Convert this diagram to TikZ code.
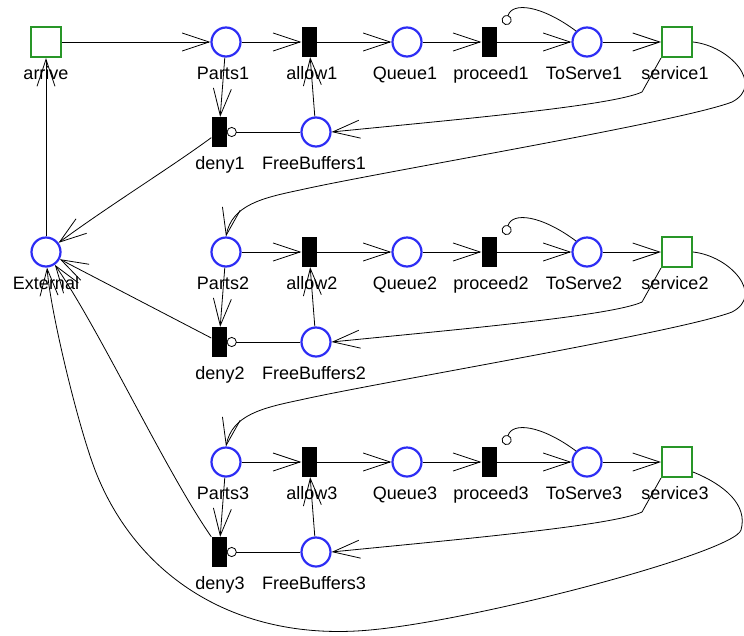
\documentclass[tikz,border=0pt]{standalone}
\usepackage{fontspec}
\setmainfont{Liberation Sans}
\usetikzlibrary{arrows.meta,calc}
\definecolor{pblue}{RGB}{45,45,245}
\definecolor{tgreen}{RGB}{40,150,40}
\tikzset{
  place/.style={circle,draw=pblue,line width=2.2pt,minimum size=29pt,inner sep=0pt,fill=white},
  trans/.style={rectangle,fill=black,minimum width=15pt,minimum height=30pt,inner sep=0pt},
  sub/.style={rectangle,draw=tgreen,line width=2pt,minimum size=30pt,inner sep=0pt,fill=white},
  lbl/.style={font=\fontsize{18}{20}\selectfont,anchor=base,inner sep=0pt},
  arc/.style={line width=0.8pt,-{Straight Barb[length=27pt,width=18pt,line width=0.8pt]}},
  inh/.style={line width=0.8pt,-{Circle[open,length=10pt,width=10pt,line width=0.8pt]}},
}
\begin{document}
\begin{tikzpicture}[x=1pt,y=-1pt]
\useasboundingbox (0,0) rectangle (744,635);
\node[sub] (arrive) at (46,42) {};
\node[place] (External) at (46,252) {};
\node[lbl] (arrive-l) at (46,79.5) {arrive};
\node[lbl] (External-l) at (46,289.5) {External};
\foreach \i/\y in {1/0,2/210,3/420}{
  \node[place] (Parts\i) at (226,42+\y) {};
  \node[trans] (allow\i) at (309,42+\y) {};
  \node[place] (Queue\i) at (407,42+\y) {};
  \node[trans] (proceed\i) at (489,42+\y) {};
  \node[place] (ToServe\i) at (587,42+\y) {};
  \node[sub] (service\i) at (677,42+\y) {};
  \node[trans] (deny\i) at (219,132+\y) {};
  \node[place] (FreeBuffers\i) at (316,132+\y) {};
  \node[lbl] (Parts\i-l) at (223,79.5+\y) {Parts\i};
  \node[lbl] (allow\i-l) at (312,79.5+\y) {allow\i};
  \node[lbl] (Queue\i-l) at (405,79.5+\y) {Queue\i};
  \node[lbl] (proceed\i-l) at (491,79.5+\y) {proceed\i};
  \node[lbl] (ToServe\i-l) at (584,79.5+\y) {ToServe\i};
  \node[lbl] (service\i-l) at (675,79.5+\y) {service\i};
  \node[lbl] (deny\i-l) at (220,169.5+\y) {deny\i};
  \node[lbl] (FreeBuffers\i-l) at (314,169.5+\y) {FreeBuffers\i};
  \draw[arc] (Parts\i) -- (allow\i);
  \draw[arc] (allow\i) -- (Queue\i);
  \draw[arc] (Queue\i) -- (proceed\i);
  \draw[arc] (proceed\i) -- (ToServe\i);
  \draw[arc] (ToServe\i) -- (service\i);
  \draw[arc] (Parts\i) -- (deny\i);
  \draw[arc] (FreeBuffers\i) -- (allow\i);
  \draw[inh] (FreeBuffers\i) -- (deny\i);
  \draw[inh] (ToServe\i.north west) .. controls +(-35,-26) and +(7,-23) .. ($(proceed\i.north east)+(8.5,-2)$);
  \draw[arc] (service\i.south west) -- ++(-19,34) .. controls +(-30,14) and +(120,-12) .. (FreeBuffers\i.east);
}
\foreach \i/\j/\y in {1/2/0,2/3/210}{
  \draw[arc] (service\i.east) .. controls (730,46+\y) and (765,85+\y) .. (732,102+\y)
     .. controls (680,122+\y) and (380,172+\y) .. (300,190+\y)
     .. controls (262,198+\y) and (232,205+\y) .. (Parts\j.north);
}
\draw[arc] (arrive) -- (Parts1);
\draw[arc] (External) -- (arrive);
\draw[arc] (deny1) .. controls (170,168) and (110,205) .. (External);
\draw[arc] (deny2) -- (External);
\draw[arc] (deny3.north west) .. controls (165,470) and (100,330) .. (External);
\draw[arc] ($(service3.south east)+(0,-6)$) .. controls (725,485) and (748,505) .. (741,530)
   .. controls (735,552) and (480,620) .. (370,630)
   .. controls (240,642) and (140,580) .. (97,475)
   .. controls (79,431) and (50,310) .. (External);
\end{tikzpicture}
\end{document}
